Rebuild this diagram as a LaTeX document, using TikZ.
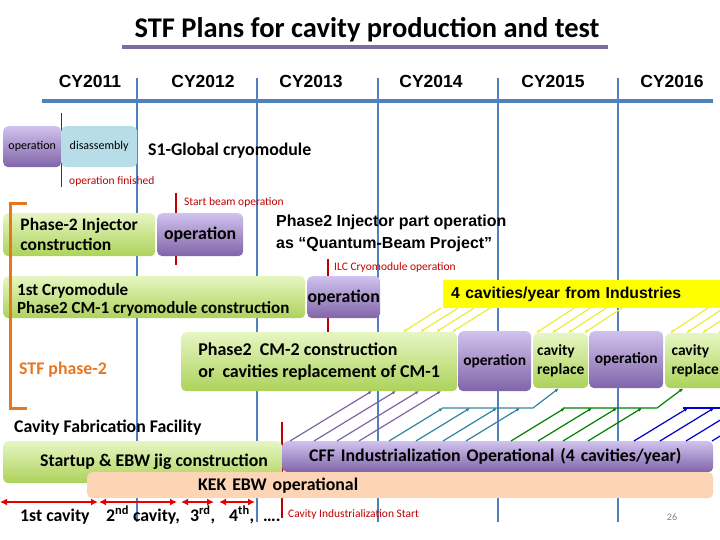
\documentclass[tikz,border=0pt]{standalone}
\usepackage{fontspec}
\setmainfont{Carlito}
\newfontfamily\arialf{Liberation Sans}
\usetikzlibrary{arrows.meta}
\definecolor{gridbl}{RGB}{79,129,189}
\definecolor{mkred}{RGB}{192,0,0}
\definecolor{arred}{RGB}{230,0,0}
\definecolor{pptop}{RGB}{208,194,238}
\definecolor{ppbot}{RGB}{128,100,168}
\definecolor{grtop}{RGB}{230,246,195}
\definecolor{grbot}{RGB}{172,210,90}
\definecolor{dsblue}{RGB}{183,222,232}
\definecolor{peach}{RGB}{251,213,181}
\definecolor{bannery}{RGB}{255,255,0}
\definecolor{hatchy}{RGB}{240,235,60}
\definecolor{stfor}{RGB}{232,118,30}
\definecolor{titleul}{RGB}{128,108,156}
\definecolor{hpurp}{RGB}{128,100,162}
\definecolor{hteal}{RGB}{49,132,155}
\definecolor{hgreen}{RGB}{0,128,0}
\definecolor{hblue}{RGB}{0,0,204}
\begin{document}
\begin{tikzpicture}[x=1pt, y=-1pt,
    lbl/.style={font=\fontsize{17.8}{18}\selectfont\bfseries},
    box/.style={anchor=north west, rounded corners=5pt, inner sep=0pt, align=center, lbl},
    gbox/.style={box, top color=grtop, bottom color=grbot},
    pbox/.style={box, top color=pptop, bottom color=ppbot},
    gridline/.style={gridbl, line width=2.5pt},
    redtick/.style={mkred, line width=2.5pt},
    note/.style={mkred, font=\fontsize{11.5}{12}\selectfont, anchor=base west, inner sep=0pt},
    yr/.style={font=\arialf\fontsize{17.5}{18}\selectfont\bfseries, anchor=base},
    hatch/.style={line width=1.2pt, -{Latex[length=4pt,width=3.5pt]}},
    span/.style={arred, line width=2.5pt, {Latex[length=7pt,width=7pt]}-{Latex[length=7pt,width=7pt]}}]
    \useasboundingbox (0,0) rectangle (720,540);

    % title
    \node[font=\fontsize{28.5}{30}\selectfont\bfseries, anchor=base] (title) at (367,38) {STF Plans for cavity production and test};
    \draw[titleul, line width=4pt] (122,47) -- (608,47);

    % year grid
    \draw[gridline, line width=3.2pt] (42,101) -- (713,101);
    \foreach \gx in {137,257,378,498,618}
        \draw[gridline] (\gx,78) -- (\gx,522);
    \foreach \yl/\gx in {2011/90, 2012/203, 2013/311, 2014/431, 2015/553, 2016/672}
        \node[yr] (cy\yl) at (\gx,88) {CY\yl};

    % milestones
    \draw[mkred, line width=1pt] (61,113) -- (61,187);
    \draw[redtick] (176,193) -- (176,265);
    \draw[redtick] (328,259) -- (328,332);
    \draw[redtick, line width=2pt] (282,422) -- (282,518);
    \node[note] (opfin) at (69,185) {operation finished};
    \node[note] (beamst) at (184,206) {Start beam operation};
    \node[note] (ilcop) at (334,270) {ILC Cryomodule operation};
    \node[note] (cfist) at (288,517) {Cavity Industrialization Start};

    % S1-Global
    \node[pbox, minimum width=58, minimum height=41, font=\fontsize{12}{12}\selectfont] (s1op) at (3,126) {operation};
    \node[box, fill=dsblue, minimum width=76, minimum height=41, font=\fontsize{12}{12}\selectfont] (s1dis) at (61,126) {disassembly};
    \node[lbl, anchor=base west, inner sep=0pt] (s1lbl) at (148,156) {S1-Global cryomodule};

    % STF phase-2
    \node[gbox, minimum width=152, minimum height=43, align=left, font=\fontsize{17.5}{20}\selectfont\bfseries] (injcon) at (3,213) {Phase-2 Injector\\construction};
    \node[pbox, minimum width=86, minimum height=43] (injop) at (157,213) {operation};
    \node[font=\arialf\fontsize{16}{22}\selectfont\bfseries, anchor=north west, align=left, inner sep=0pt] (qbeam) at (276,215) {Phase2 Injector part operation\\as “Quantum-Beam Project”};
    \node[gbox, minimum width=302, minimum height=42] (cmone) at (3,276) {};
    \node[anchor=base west, inner sep=0pt, font=\fontsize{17}{18}\selectfont\bfseries] (cmonea) at (17,295) {1st Cryomodule};
    \node[anchor=base west, inner sep=0pt, font=\fontsize{17}{18}\selectfont\bfseries] (cmoneb) at (17,313) {Phase2 CM-1 cryomodule construction};
    \node[pbox, minimum width=73, minimum height=42] (cmoneop) at (307,276) {operation};
    \node[gbox, minimum width=276, minimum height=59, align=left, font=\fontsize{18}{22}\selectfont\bfseries] (cmtwo) at (181,332) {Phase2\ \ CM-2 construction\\or\ \ cavities replacement of CM-1};
    \node[pbox, minimum width=73, minimum height=60, font=\fontsize{15.5}{18}\selectfont\bfseries] (optwo) at (458,331) {operation};
    \node[gbox, minimum width=55, minimum height=55, align=left, font=\fontsize{15.5}{19}\selectfont\bfseries] (crone) at (533,333) {cavity\\replace};
    \node[pbox, minimum width=74, minimum height=57, font=\fontsize{15.5}{18}\selectfont\bfseries] (opthree) at (589,331) {operation};
    \node[gbox, minimum width=60, minimum height=55, align=left, font=\fontsize{15.5}{19}\selectfont\bfseries] (crtwo) at (665,333) {cavity\\replace};
    \draw[stfor, line width=3pt] (27,204) -- (10,204) -- (10,408) -- (27,408);
    \node[lbl, stfor, anchor=base west, inner sep=0pt] (stf) at (19,374) {STF phase-2};

    % industries
    \node[anchor=north west, fill=bannery, minimum height=28, inner xsep=8pt, text width=261, align=left, font=\arialf\fontsize{15.8}{18}\selectfont\bfseries] (indus) at (443,280) {4 cavities/year from Industries};
    \foreach \hx in {403,420,436,452}
        \draw[hatch, hatchy] (\hx+38,308) -- (\hx,332);
    \foreach \hx in {536,552,568,584}
        \draw[hatch, hatchy] (\hx+38,308) -- (\hx,333);
    \foreach \hx in {670,686,702,718}
        \draw[hatch, hatchy] (\hx+38,308) -- (\hx,333);

    % CFF
    \node[lbl, anchor=base west, inner sep=0pt] (cffhead) at (14,432) {Cavity Fabrication Facility};
    \node[gbox, minimum width=279, minimum height=42] (startup) at (3,441) {};
    \node[lbl, anchor=base west, inner sep=0pt] (startuptx) at (40,466) {Startup \& EBW jig construction};
    \node[pbox, minimum height=31, inner xsep=27pt, text width=377, align=left] (cff) at (282,441) {CFF Industrialization Operational (4 cavities/year)};
    \node[box, fill=peach, minimum height=26, inner xsep=111pt, text width=404, align=left] (kek) at (87,472) {KEK EBW operational};

    % cavities out of CFF
    \foreach \hx in {372,396,419,441}
        \draw[hatch, hpurp] (\hx-82,441) -- (\hx,391);
    \draw[hteal, line width=1.2pt, -{Latex[length=4pt,width=3.5pt]}] (442,408) -- (533,408) -- ([xshift=-2pt]crone.south);
    \foreach \hx in {443,470,497,520}
        \draw[hatch, hteal] (\hx-54,441) -- (\hx,408);
    \draw[hgreen, line width=1.2pt, -{Latex[length=4pt,width=3.5pt]}] (563,408) -- (657,408) -- ([xshift=-12pt]crtwo.south);
    \foreach \hx in {565,592,617,642}
        \draw[hatch, hgreen] (\hx-54,441) -- (\hx,408);
    \draw[hblue, line width=1.2pt] (683,408) -- (725,408);
    \foreach \hx in {688,714,740,766}
        \draw[hatch, hblue] (\hx-54,441) -- (\hx,408);

    % KEK cavities
    \foreach \a/\b in {0/98, 99/177, 181/214, 219/255}
        \draw[span] (\a,502) -- (\b,502);
    \node[lbl, anchor=base west, inner sep=0pt] (cav1) at (20,521) {1st cavity};
    \node[lbl, anchor=base west, inner sep=0pt] (cav2) at (106,521) {2\textsuperscript{nd} cavity,};
    \node[lbl, anchor=base west, inner sep=0pt] (cav3) at (190,521) {3\textsuperscript{rd},};
    \node[lbl, anchor=base west, inner sep=0pt] (cav4) at (229,521) {4\textsuperscript{th},};
    \node[lbl, anchor=base west, inner sep=0pt] (cavn) at (263,521) {….};
    \node[gray, font=\fontsize{10}{10}\selectfont, anchor=base] (pgno) at (672,520) {26};
\end{tikzpicture}
\end{document}
